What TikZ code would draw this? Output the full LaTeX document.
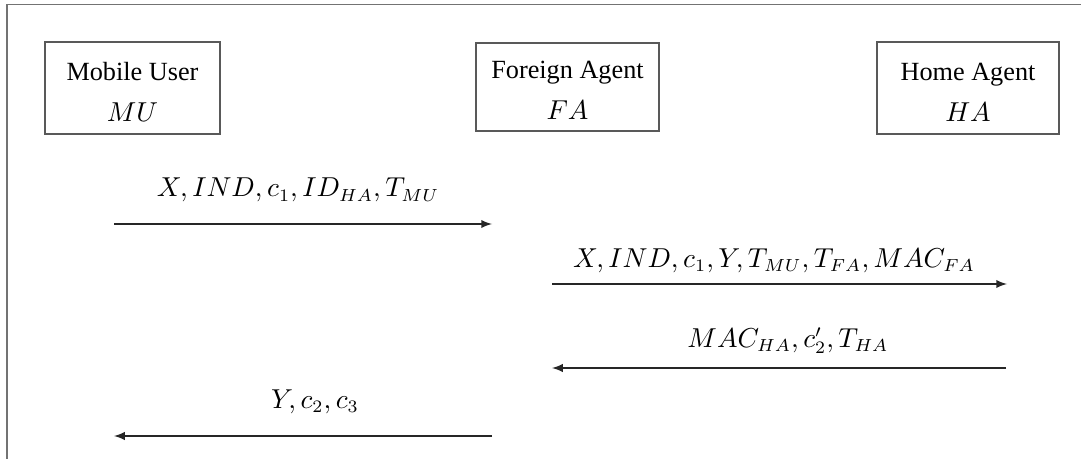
\documentclass[tikz,border=0pt]{standalone}
\usepackage{amsmath}
\usepackage{amssymb}
\usepackage[no-math]{fontspec}
\setmainfont{Liberation Serif}
\usetikzlibrary{arrows,calc}

\begin{document}
\begin{tikzpicture}[x=0.4pt,y=-0.4pt]
	\tikzstyle{entity} = [draw=black!65, line width=0.5pt, minimum width=70pt, minimum height=36.8pt]
	\tikzstyle{entitytext} = [align=center, inner sep=0pt, font=\fontsize{10.5}{14.4}\selectfont]
	\tikzstyle{frame} = [draw=black!55, line width=0.7pt]
	\tikzstyle{msg} = [draw=black!85, line width=0.5pt, -latex]
	\tikzstyle{lbl} = [anchor=base, inner sep=0pt, font=\fontsize{10.5}{12}\selectfont]
	\useasboundingbox (0,0) rectangle (1081,459);
	\draw[frame] (1081,4.5) -- (7,4.5) -- (7,459);
	\coordinate (MU) at (132.5,88);
	\coordinate (FA) at (567.5,87);
	\coordinate (HA) at (968,88);
	\node[entity] (mu) at (MU) {};
	\node[entity, minimum width=73.2pt, minimum height=35.2pt] (fa) at (FA) {};
	\node[entity, minimum width=72.8pt] (ha) at (HA) {};
	\node[entitytext] (mutext) at ($(mu)+(0,4)$) {Mobile User\\[2pt] $MU$};
	\node[entitytext] (fatext) at ($(fa)+(0,3)$) {Foreign Agent\\[2pt] $FA$};
	\node[entitytext] (hatext) at ($(ha)+(0,4)$) {Home Agent\\[2pt] $HA$};
	\coordinate (muA) at (114,224);
	\coordinate (faA) at (492,224);
	\coordinate (faB) at (552,284);
	\coordinate (haB) at (1007,284);
	\coordinate (haC) at (1006,368);
	\coordinate (faC) at (552,368);
	\coordinate (faD) at (492,436);
	\coordinate (muD) at (114,436);
	\draw[msg] (muA) -- (faA);
	\draw[msg] (faB) -- (haB);
	\draw[msg] (haC) -- (faC);
	\draw[msg] (faD) -- (muD);
	\node[lbl] (m1) at (298,197) {$X, IND, c_1, ID_{HA}, T_{MU}$};
	\node[lbl] (m2) at (774,267) {$X, IND, c_1, Y, T_{MU}, T_{FA}, MAC_{FA}$};
	\node[lbl] (m3) at (788,347) {$MAC_{HA}, c'_2, T_{HA}$};
	\node[lbl] (m4) at (315,408) {$Y, c_2, c_3$};
\end{tikzpicture}
\end{document}
